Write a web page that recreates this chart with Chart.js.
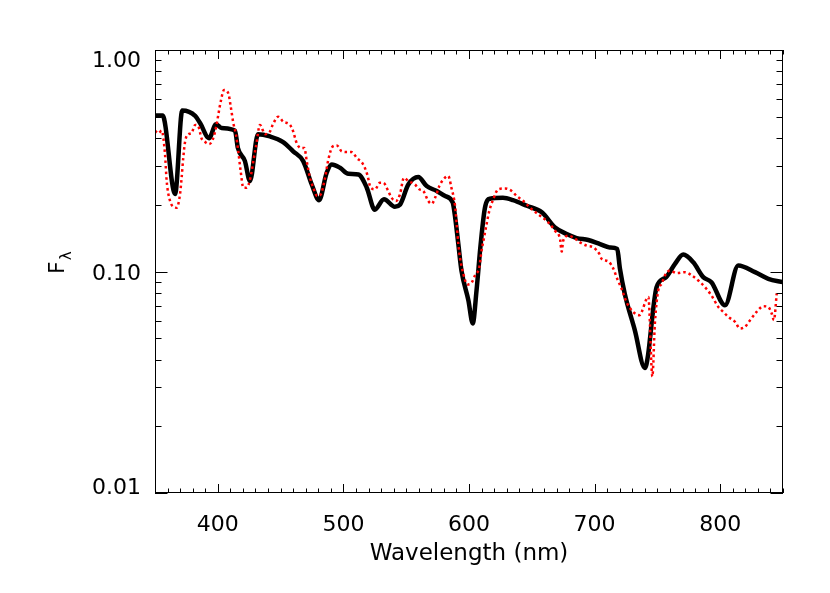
<!DOCTYPE html>
<html lang="en">
<head>
<meta charset="UTF-8">
<title>Spectrum - F lambda</title>
<script src="https://cdn.jsdelivr.net/npm/chart.js"></script>
<style>
  html, body { margin: 0; padding: 0; background: #fff; }
  #wrap { width: 830px; height: 593px; }
</style>
</head>
<body>
<div id="wrap"><canvas id="spec" width="830" height="593"></canvas></div>
<script>
  // black solid curve
  const modelWave = [350, 356, 366, 371.7, 382, 386, 393, 398.6, 403, 413.7, 416, 421.6, 425.6, 432, 441.6, 452, 460, 468,
    474.8, 480.6, 486.7, 490.7, 497.3, 504, 512, 518.6, 525, 532.3, 541, 545, 551.7, 559.6, 566.3, 574.3, 581, 587, 589,
    591.5, 594, 599.5, 603, 606, 609.3, 612.7, 616.7, 627, 635, 646, 658, 668.5, 677.8, 685.7, 695, 704.3, 712, 718,
    720.2, 724, 732, 740, 749.4, 757, 764, 770.6, 778.6, 786.5, 793, 803.8, 814.4, 827.7, 838.3, 850];
  const modelFlux = [0.506, 0.506, 0.224, 0.533, 0.504, 0.467, 0.400, 0.462, 0.444, 0.432, 0.361, 0.315, 0.256, 0.417, 0.407,
    0.384, 0.349, 0.315, 0.247, 0.210, 0.279, 0.304, 0.294, 0.276, 0.274, 0.239, 0.190, 0.212, 0.196, 0.200, 0.247, 0.267,
    0.243, 0.231, 0.219, 0.205, 0.175, 0.133, 0.101, 0.0741, 0.0583, 0.0822, 0.133, 0.194, 0.213, 0.215, 0.210, 0.198,
    0.185, 0.158, 0.1476, 0.1416, 0.1387, 0.133, 0.1285, 0.1264, 0.1028, 0.0794, 0.0544, 0.0367, 0.0851, 0.0943, 0.1083,
    0.1192, 0.110, 0.0943, 0.0895, 0.0704, 0.1064, 0.0993, 0.0927, 0.0895];

  // red dotted curve
  const obsWave = [350, 352.7, 355.3, 358, 359.3, 362, 364.6, 367.3, 369.9, 371.2, 372.5, 374, 376.6, 379, 382, 384.5, 387,
    390, 393, 396, 399, 400.4, 402.3, 405, 408.4, 410.3, 412.4, 414.5, 416.3, 418.2, 420.3, 423, 426, 428.3, 430.4, 433.6,
    437.6, 441.6, 443.7, 448.2, 452, 457.5, 460, 462.8, 466, 469, 470.8, 473.4, 476, 479.2, 482, 485.4, 488, 491.5, 494.7,
    498.6, 502.6, 506.6, 510.6, 515.8, 519, 521.7, 525.2, 529, 531.8, 535.7, 538.4, 541.9, 545, 548.2, 551.7, 557, 560.4,
    563.6, 567.6, 570.2, 573, 576.4, 579.5, 583.5, 586, 588.9, 590.2, 591.5, 592.8, 595.5, 598.7, 601.4, 604.8, 608.2, 610,
    612, 614, 616.2, 619.3, 623.3, 628.7, 634, 638, 643.3, 648.6, 655, 663.2, 668.5, 672.5, 673.8, 675, 679, 683, 688.4,
    693.7, 699, 703.8, 705.6, 711, 715, 718, 721.5, 726, 735.6, 742.8, 746, 748, 750.7, 753.4, 756, 760, 765.3, 772, 777.3,
    784, 789, 793, 798.5, 802.5, 806.4, 811.8, 815.8, 819.8, 823.8, 829, 834.3, 838.3, 841, 842.8, 845];
  const obsFlux = [0.432, 0.421, 0.432, 0.337, 0.256, 0.208, 0.196, 0.194, 0.223, 0.265, 0.326, 0.387, 0.417, 0.421, 0.459,
    0.452, 0.400, 0.384, 0.376, 0.394, 0.459, 0.510, 0.584, 0.660, 0.637, 0.555, 0.467, 0.415, 0.349, 0.284, 0.239, 0.239,
    0.265, 0.315, 0.367, 0.459, 0.417, 0.429, 0.459, 0.500, 0.475, 0.459, 0.429, 0.380, 0.361, 0.361, 0.315, 0.265, 0.239,
    0.219, 0.223, 0.265, 0.320, 0.367, 0.371, 0.349, 0.346, 0.346, 0.326, 0.304, 0.274, 0.239, 0.235, 0.2515, 0.2515, 0.231,
    0.215, 0.208, 0.223, 0.265, 0.256, 0.247, 0.235, 0.231, 0.208, 0.202, 0.215, 0.243, 0.260, 0.270, 0.239, 0.198, 0.1636,
    0.133, 0.116, 0.0976, 0.0874, 0.088, 0.096, 0.1046, 0.124, 0.1425, 0.1636, 0.188, 0.212, 0.235, 0.237, 0.231, 0.219,
    0.208, 0.194, 0.1815, 0.1664, 0.1528, 0.140, 0.123, 0.1377, 0.145, 0.1425, 0.1353, 0.1308, 0.1285, 0.120, 0.114, 0.1109,
    0.1028, 0.0927, 0.0836, 0.0716, 0.0635, 0.0767, 0.0336, 0.0583, 0.0822, 0.088, 0.096, 0.101, 0.0983, 0.0993, 0.096,
    0.0895, 0.0836, 0.078, 0.0692, 0.0657, 0.0624, 0.0593, 0.0553, 0.0563, 0.0603, 0.0657, 0.0697, 0.0692, 0.0646, 0.0603,
    0.0796];

  const xMajorTicks = [400, 500, 600, 700, 800];
  const yMajorTicks = [0.01, 0.1, 1];
  const yTickLabels = ['0.01', '0.10', '1.00'];
  const xTitle = 'Wavelength (nm)';

  const FONT = '"DejaVu Sans", sans-serif';

  // tick marks: every 10 nm on x, 1..9 x decade on y
  const xTickValues = [];
  for (let v = 350; v <= 850; v += 10) xTickValues.push(v);
  const yTickValues = [];
  yMajorTicks.slice(0, -1).forEach(d => { for (let m = 1; m < 10; m++) yTickValues.push(+(m * d).toPrecision(3)); });
  yTickValues.push(1);

  const toPoints = (xs, ys) => xs.map((x, i) => ({ x: x, y: ys[i] }));

  // IDL-style box with inward ticks, labels and titles
  const frame = {
    id: 'frame',
    afterDraw(chart) {
      const { ctx, chartArea: a, scales: { x, y } } = chart;
      ctx.save();
      ctx.strokeStyle = '#000';
      ctx.lineWidth = 1;
      ctx.strokeRect(a.left + 0.5, a.top + 0.5, a.right - a.left - 1, a.bottom - a.top - 1);

      ctx.beginPath();
      x.ticks.forEach(t => {
        const px = Math.round(x.getPixelForValue(t.value)) + 0.5;
        const len = xMajorTicks.includes(t.value) ? 9 : 4.5;
        ctx.moveTo(px, a.bottom); ctx.lineTo(px, a.bottom - len);
        ctx.moveTo(px, a.top); ctx.lineTo(px, a.top + len);
      });
      y.ticks.forEach(t => {
        const py = Math.round(y.getPixelForValue(t.value)) + 0.5;
        const len = yMajorTicks.includes(t.value) ? 12.5 : 6.5;
        ctx.moveTo(a.left, py); ctx.lineTo(a.left + len, py);
        ctx.moveTo(a.right, py); ctx.lineTo(a.right - len, py);
      });
      ctx.stroke();

      ctx.fillStyle = '#000';
      ctx.font = '22px ' + FONT;
      ctx.textBaseline = 'alphabetic';
      ctx.textAlign = 'center';
      xMajorTicks.forEach(v => ctx.fillText(String(v), x.getPixelForValue(v), a.bottom + 38));

      ctx.textAlign = 'right';
      yMajorTicks.forEach((v, i) => {
        const py = y.getPixelForValue(v);
        let off = 8;
        if (i === yMajorTicks.length - 1) off = 17;
        if (i === 0) off = 1;
        ctx.fillText(yTickLabels[i], a.left - 14, py + off);
      });

      ctx.font = '23px ' + FONT;
      ctx.textAlign = 'center';
      ctx.fillText(xTitle, (a.left + a.right) / 2, a.bottom + 67);

      // F with subscript lambda, rotated
      ctx.translate(64, 274);
      ctx.rotate(-Math.PI / 2);
      ctx.textAlign = 'left';
      ctx.font = '22px ' + FONT;
      ctx.fillText('F', 0, 0);
      const fw = ctx.measureText('F').width;
      ctx.font = '15px ' + FONT;
      ctx.fillText('λ', fw + 1, 7);
      ctx.restore();
    }
  };

  new Chart(document.getElementById('spec'), {
    type: 'line',
    data: {
      datasets: [{
        data: toPoints(obsWave, obsFlux),
        borderColor: '#ff0000',
        borderWidth: 2.5,
        borderDash: [2.5, 3],
        pointRadius: 0,
        cubicInterpolationMode: 'monotone'
      }, {
        data: toPoints(modelWave, modelFlux),
        borderColor: '#000000',
        borderWidth: 4.5,
        borderJoinStyle: 'round',
        pointRadius: 0,
        cubicInterpolationMode: 'monotone'
      }]
    },
    options: {
      responsive: false,
      animation: false,
      devicePixelRatio: 1,
      layout: { padding: { top: 50, right: 47, left: 0, bottom: 0 } },
      plugins: { legend: { display: false }, tooltip: { enabled: false } },
      scales: {
        x: {
          type: 'linear', min: 350, max: 850,
          grid: { display: false }, border: { display: false }, ticks: { display: false },
          afterBuildTicks: s => { s.ticks = xTickValues.map(v => ({ value: v })); },
          afterFit: s => { s.height = 100; }
        },
        y: {
          type: 'logarithmic', min: 0.01, max: 1,
          grid: { display: false }, border: { display: false }, ticks: { display: false },
          afterBuildTicks: s => { s.ticks = yTickValues.map(v => ({ value: v })); },
          afterFit: s => { s.width = 155; }
        }
      }
    },
    plugins: [frame]
  });
</script>
</body>
</html>
